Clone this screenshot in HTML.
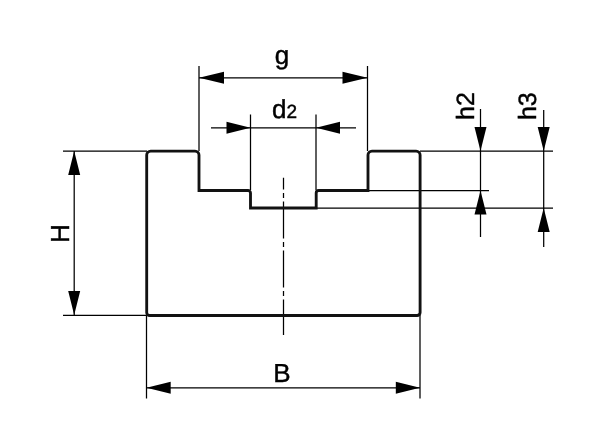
<!DOCTYPE html>
<html><head><meta charset="utf-8">
<style>
html,body{margin:0;padding:0;background:#fff;width:600px;height:448px;overflow:hidden}
svg{display:block;will-change:transform}
text{font-family:"Liberation Sans",sans-serif;fill:#000;stroke:#000;stroke-width:0.45;text-rendering:geometricPrecision}
</style></head>
<body>
<svg width="600" height="448" viewBox="0 0 600 448">
<rect x="0" y="0" width="600" height="448" fill="#fff"/>
<!-- thin lines -->
<g stroke="#000" stroke-width="1.25" fill="none">
  <!-- H extension -->
  <path d="M63,151H147M63,315.3H147"/>
  <!-- right extension -->
  <path d="M420,151H553M368,190.5H489M316,208H553"/>
  <!-- g extension -->
  <path d="M199,66V151M367.5,66V151"/>
  <!-- d2 extension -->
  <path d="M250.5,114.5V190M316,114.5V190"/>
  <!-- B extension -->
  <path d="M146.5,315V398.5M420,315V398.5"/>
  <!-- g dim -->
  <path d="M199,77.8H367.5"/>
  <!-- d2 dim -->
  <path d="M211,127.8H356"/>
  <!-- H dim -->
  <path d="M74.2,151V315"/>
  <!-- B dim -->
  <path d="M147,387.8H420"/>
  <!-- h2 -->
  <path d="M480.5,109V237"/>
  <!-- h3 -->
  <path d="M543.7,110V247"/>
  <!-- center line -->
  <path d="M283.5,177.8V335" stroke-dasharray="37 3.5 5 3.5" stroke-dashoffset="25.4"/>
</g>
<!-- arrows -->
<g fill="#000">
  <path d="M199,77.8L224,71.8L224,83.8Z"/>
  <path d="M367.5,77.8L342.5,71.8L342.5,83.8Z"/>
  <path d="M250.5,127.8L226.5,121.8L226.5,133.8Z"/>
  <path d="M316,127.8L340,121.8L340,133.8Z"/>
  <path d="M74.2,151L68.2,175L80.2,175Z"/>
  <path d="M74.2,315L68.2,291L80.2,291Z"/>
  <path d="M146.5,387.8L170.7,381.8L170.7,393.8Z"/>
  <path d="M420,387.8L395.8,381.8L395.8,393.8Z"/>
  <path d="M480.5,151L474.5,127L486.5,127Z"/>
  <path d="M480.5,190.5L474.5,214.5L486.5,214.5Z"/>
  <path d="M543.7,151L537.7,127L549.7,127Z"/>
  <path d="M543.7,208L537.7,232L549.7,232Z"/>
</g>
<!-- body outline -->
<path d="M146.7,312.5V155.1A4,4 0 0 1 150.7,151.1H195A4,4 0 0 1 199,155.1V190.5H248A2.5,2.5 0 0 1 250.5,193V208H316.2V193A2.5,2.5 0 0 1 318.7,190.5H368V155.1A4,4 0 0 1 372,151.1H416.1A4,4 0 0 1 420.1,155.1V312.5A3,3 0 0 1 417.1,315.5H149.7A3,3 0 0 1 146.7,312.5Z" fill="none" stroke="#121212" stroke-width="2.85" stroke-linejoin="miter"/>
<!-- texts -->
<text x="282" y="64" font-size="26" text-anchor="middle">g</text>
<text x="272" y="118" font-size="26">d<tspan font-size="19">2</tspan></text>
<text x="282" y="382" font-size="26" text-anchor="middle">B</text>
<text transform="translate(69.3,233.6) rotate(-90)" font-size="26" text-anchor="middle">H</text>
<text transform="translate(473.7,106.1) rotate(-90)" font-size="25" text-anchor="middle">h2</text>
<text transform="translate(536,106.2) rotate(-90)" font-size="25" text-anchor="middle">h3</text>
</svg>
</body></html>
